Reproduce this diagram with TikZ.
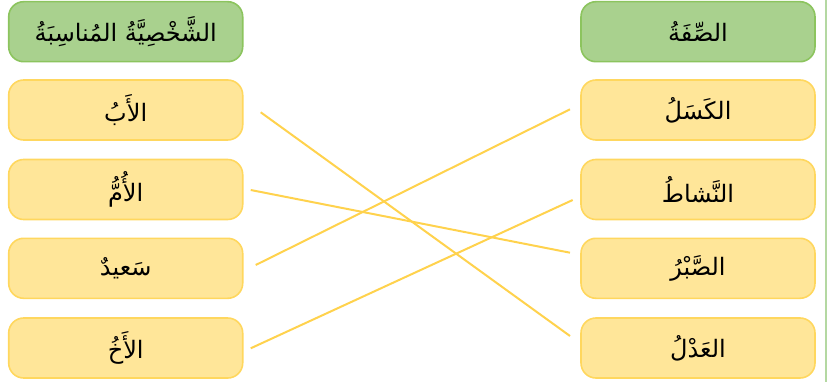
\documentclass[tikz,border=0pt]{standalone}
\usepackage{fontspec}
\newfontfamily\arabicfont[Script=Arabic]{DejaVu Sans}
\TeXXeTstate=1
\newcommand\artxt[1]{{\arabicfont\fontsize{24}{28}\selectfont\beginR #1\endR}}
\definecolor{yfill}{HTML}{FFE699}
\definecolor{ydraw}{HTML}{FFD75E}
\definecolor{gfill}{HTML}{A9D18E}
\definecolor{gdraw}{HTML}{8CC45E}
\definecolor{linkc}{HTML}{FFD24D}
\definecolor{edgec}{HTML}{B4D8A2}
\tikzset{
  box/.style={rounded corners=15pt, minimum width=234pt, minimum height=60pt, inner sep=0pt, line width=1.6pt, text=black},
  ybox/.style={box, fill=yfill, draw=ydraw},
  gbox/.style={box, fill=gfill, draw=gdraw},
  link/.style={draw=linkc, line width=2pt}
}
\begin{document}
\begin{tikzpicture}[x=1pt,y=-1pt]
\useasboundingbox (0,0) rectangle (829,382);
\draw[edgec, line width=2pt] (825.7,0) -- (825.7,382);
% headers
\node[gbox] (hl) at (125.7,31.7) {\artxt{الشَّخْصِيَّةُ المُناسِبَةُ}};
\node[gbox] (hr) at (698,31.7) {\artxt{الصِّفَةُ}};
% left column
\node[ybox] (l1) at (125.7,110) {\artxt{الأَبُ}};
\node[ybox] (l2) at (125.7,189.5) {\artxt{الأُمُّ}};
\node[ybox] (l3) at (125.7,268.3) {\artxt{سَعيدٌ}};
\node[ybox] (l4) at (125.7,348) {\artxt{الأَخُ}};
% right column
\node[ybox] (r1) at (698,110) {\artxt{الكَسَلُ}};
\node[ybox] (r2) at (698,189.5) {\artxt{النَّشاطُ}};
\node[ybox] (r3) at (698,268.3) {\artxt{الصَّبْرُ}};
\node[ybox] (r4) at (698,348) {\artxt{العَدْلُ}};
% connector end points
\coordinate (a1) at (260.7,112.3);
\coordinate (b1) at (570,336);
\coordinate (a2) at (250.7,190);
\coordinate (b2) at (570,252.7);
\coordinate (a3) at (255.7,265);
\coordinate (b3) at (570,109.3);
\coordinate (a4) at (250.7,348.3);
\coordinate (b4) at (572.7,200);
\draw[link] (a1) -- (b1);
\draw[link] (a2) -- (b2);
\draw[link] (a3) -- (b3);
\draw[link] (a4) -- (b4);
\end{tikzpicture}
\end{document}
